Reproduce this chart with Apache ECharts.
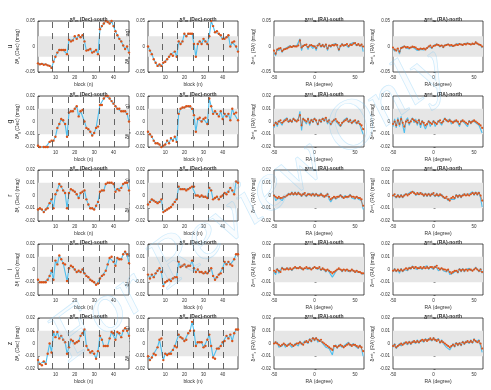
<!DOCTYPE html>
<html><head><meta charset="utf-8">
<script src="https://cdn.jsdelivr.net/npm/echarts@6/dist/echarts.min.js"></script>
<style>html,body{margin:0;padding:0;background:#fff}#c{width:491px;height:390px}</style>
</head><body><div id="c"></div>
<script>
// ---- data (mag values stored in mmag) ----
const bandNames = ['u','g','r','i','z'];
const blockBoundaries = [8.5,16.5,24.5,32.5,40.5];
const decTicks = [10,20,30,40];
const raTicks = [-50,0,50];

const uDecSouth = [-33,-35,-34,-36,-35,-37,-38,-42,-30,-20,-12,-7,-7,-7,-7,-15,13,10,12,20,15,22,18,22,10,-8,-7,-5,-12,-10,-7,-15,34,40,45,50,48,45,50,40,30,22,15,10,2,-5,0,-12];
const uDecNorth = [0,-8,-15,-25,-32,-38,-35,-38,-32,-30,-25,-20,-15,-18,-10,-20,10,5,10,25,20,25,25,25,5,-20,5,10,5,15,10,5,20,50,40,28,30,25,22,15,15,18,22,0,8,10,0,-10];
const gDecSouth = [-19,-20,-21,-20,-20,-20,-16,-15,-15,-12,-5,-2,2,1,-2,-12,7,8,8,10,12,4,8,9,0,-5,-6,-8,-11,-9,-5,-4,13,13,18,20,20,18,16,14,12,10,10,8,8,8,6,0];
const gDecNorth = [-8,-10,-12,-15,-17,-17,-18,-20,-19,-18,-15,-17,-13,-15,-12,-16,6,10,11,11,12,12,12,10,5,-8,2,3,0,2,3,-2,18,12,6,8,6,4,8,2,6,4,6,1,10,6,7,1];
const rDecSouth = [-11,-10,-11,-13,-11,-10,-6,-3,-10,1,4,9,7,4,2,-10,2,5,4,3,1,-2,2,3,4,-3,-7,-10,-10,-11,-8,-5,3,4,4,9,10,10,10,9,3,5,4,6,9,10,10,4];
const rDecNorth = [-7,-5,-3,-4,-5,-6,-5,-3,-13,-12,-11,-10,-9,-7,-5,-3,7,5,5,5,4,5,6,7,7,0,0,-1,0,-1,-1,-2,6,4,-3,-2,-1,-3,-1,0,2,1,3,6,4,1,11,10];
const iDecSouth = [-8,-10,-10,-10,-10,-8,-5,-1,-8,7,4,11,8,5,4,-9,1,3,2,0,-2,-1,-2,0,-3,-5,-6,-8,-9,-10,-12,-11,-7,-5,-4,-1,4,9,10,6,3,9,8,8,12,14,12,5];
const iDecNorth = [-4,-7,-4,-6,-3,-1,1,-2,-13,-10,-9,-8,-9,-7,-6,-6,6,2,3,4,2,3,3,7,1,-2,0,-2,-2,-3,-2,-3,-1,1,-5,-8,-6,-4,-3,1,6,4,6,4,3,8,12,12];
const zDecSouth = [-13,-16,-17,-14,-16,-8,0,-7,9,5,9,4,6,3,1,-8,-3,3,2,0,1,2,6,8,11,-2,-5,-7,-6,-8,-12,-6,6,3,-2,-2,-2,4,9,8,3,9,8,5,10,12,10,6];
const zDecNorth = [-10,-13,-11,-8,-9,-3,3,4,-13,-8,-9,-8,-8,-5,-2,-3,7,5,4,2,3,8,10,17,10,-2,1,1,1,-3,-2,3,7,-2,-11,-12,-4,-4,-2,1,2,6,4,7,2,8,11,11];

const uRaSouthBlue = [-12,-18,-4,-8,-3,-12,-5,-7,-2,-3,2,-2,2,-1,1,3,15,-8,3,6,2,-6,4,5,-4,2,-8,3,7,-2,5,-2,5,-8,3,-2,4,1,6,2,-9,2,6,0,4,7,-2,5,2,8,8,1,6,0,5,-10];
const uRaSouthOrange = [-8,-14,-6,-4,-3,-9,-6,-5,-4,-2,0,-1,1,0,0,2,12,-2,1,3,4,-1,2,3,1,0,-3,2,5,1,3,0,4,-4,2,1,3,2,4,3,-6,1,4,2,3,5,1,4,3,6,7,3,5,2,4,0];
const uRaNorthBlue = [-4,-9,-12,-6,-15,-2,-5,1,-3,-2,-5,-1,1,-3,-3,-8,-9,-6,-8,-7,-10,-4,1,3,-4,2,0,5,2,-1,3,-3,3,2,5,1,4,0,3,5,2,6,3,2,6,3,7,4,5,7,4,9,5,3,2,-3];
const uRaNorthOrange = [-2,-6,-8,-4,-10,-3,-2,0,-2,-1,-3,-2,0,-1,-2,-5,-6,-4,-5,-4,-6,-3,0,2,-2,1,2,4,3,1,2,-1,2,3,4,2,3,1,2,4,3,5,4,3,5,4,6,5,4,6,5,8,6,4,3,0];
const gRaSouthBlue = [-5,0,-4,1,2,-3,1,2,3,-1,2,-1,3,0,1,2,8,-7,3,0,-2,3,-3,2,-1,3,0,-3,2,-1,3,0,3,-2,2,-3,-1,2,3,-1,-2,-4,-2,1,2,3,-1,2,-2,1,0,-2,1,-3,-4,-10];
const gRaSouthOrange = [-3,-1,-2,0,1,-1,0,1,2,0,1,0,2,1,0,1,5,-3,2,1,0,2,-1,1,0,2,1,-2,1,0,2,1,3,0,1,-2,0,1,2,0,-1,-3,-1,0,1,2,0,1,-1,0,1,-1,0,-2,-3,-6];
const gRaNorthBlue = [-4,2,-5,3,-4,4,-3,-9,1,3,-3,1,3,-1,2,-3,2,-5,1,-3,-6,-3,1,-4,-5,1,-4,-5,1,2,-3,1,3,0,-1,2,-2,-3,1,2,-1,-4,1,2,-1,-2,-4,1,-2,1,2,-1,-2,-3,-4,-9];
const gRaNorthOrange = [-2,0,-3,1,-2,2,-1,-4,0,1,-1,0,2,1,0,-1,1,-2,0,-1,-3,-2,0,-1,-2,0,-1,-2,0,1,-1,0,2,1,0,1,0,-1,0,1,0,-2,0,1,0,-1,-2,0,-1,0,1,0,-1,-2,-3,-5];
const rRaSouthBlue = [1,-4,-3,-2,-3,-4,-2,-2,0,2,0,3,0,3,0,3,1,-1,2,3,-1,2,0,-1,2,-1,2,-1,-1,2,-1,-2,-1,2,-3,-5,-3,-1,-3,-2,-1,1,-2,-3,0,-2,-2,1,-2,-1,-3,-1,-3,-3,-4,-11];
const rRaSouthOrange = [0,-1,-2,-1,-2,-2,-1,-1,0,1,1,2,1,2,1,2,1,0,1,2,0,1,1,0,1,0,1,0,0,1,0,-1,0,1,-1,-3,-2,-1,-2,-1,-1,0,-1,-2,-1,-1,-1,0,-1,-1,-2,-1,-2,-2,-3,-8];
const rRaNorthBlue = [1,0,-2,1,-2,1,-2,1,0,1,0,3,2,3,0,1,2,1,2,-1,2,-1,2,-1,2,1,-1,2,-1,0,1,-2,-3,-2,-4,-5,-3,-2,-3,1,-2,1,-2,1,0,1,0,1,0,3,0,3,0,3,-2,-9];
const rRaNorthOrange = [0,1,-1,0,-1,0,-1,0,1,0,1,2,3,2,1,2,1,2,1,0,1,0,1,0,1,2,0,1,0,1,0,-1,-2,-1,-3,-4,-2,-1,-2,0,-1,0,-1,0,1,0,1,0,1,2,1,2,1,2,0,-4];
const iRaSouthBlue = [-2,-4,1,-3,-2,2,0,1,1,0,1,-1,1,2,1,0,2,0,0,1,2,0,2,0,1,2,1,0,2,-1,1,0,-2,0,-2,-4,-6,-4,-2,0,1,0,-2,0,-1,-1,-1,-2,0,-1,-2,-1,-2,-2,-3,-4];
const iRaSouthOrange = [-1,-2,0,-1,-2,1,0,0,1,0,1,0,1,2,1,1,2,1,0,1,2,1,1,0,1,2,1,1,2,0,1,0,-1,0,-1,-2,-3,-2,-1,0,1,0,-1,0,-1,0,-1,-1,0,-1,-2,-1,-2,-2,-3,-3];
const iRaNorthBlue = [-2,1,-2,0,-3,1,-2,0,1,-1,2,0,3,1,2,0,2,3,0,2,1,3,0,2,1,0,3,4,-1,0,1,-1,-1,-2,0,-4,-5,-3,-2,-1,-3,1,-2,1,-2,0,-1,1,-1,-2,0,2,0,-2,1,-3];
const iRaNorthOrange = [-1,0,-1,0,-1,0,-1,0,1,0,1,1,2,1,2,1,1,2,1,2,1,2,1,2,2,1,2,3,1,0,1,0,0,-1,0,-2,-3,-2,-1,-1,-2,0,-1,0,-1,0,-1,0,0,-1,0,1,0,-1,0,-2];
const zRaSouthBlue = [1,0,1,-3,-4,-2,0,-3,-3,0,1,-3,-3,0,1,-2,2,-1,-2,2,3,0,4,1,5,2,5,1,3,4,0,1,-3,-3,-4,-5,-9,-3,-1,-4,-1,0,-3,-4,-1,-2,1,-2,-3,0,-2,-3,-4,-1,-4,-10];
const zRaSouthOrange = [0,1,0,-1,-2,-1,0,-1,-2,-1,0,-1,-2,-1,0,0,1,0,-1,1,2,1,3,2,4,3,4,3,2,3,1,0,-1,-2,-3,-4,-5,-2,-2,-3,-2,-1,-2,-3,-2,-1,0,-1,-2,-1,-1,-2,-3,-2,-3,-6];
const zRaNorthBlue = [-3,0,-4,-3,0,-2,-2,1,2,-1,2,-1,2,3,0,3,0,3,4,1,4,2,4,5,2,5,2,1,4,0,3,0,-1,-3,-4,-5,-3,0,-3,1,-2,1,-2,2,-1,2,3,0,3,0,4,1,0,3,-2,-7];
const zRaNorthOrange = [-2,-1,-3,-2,-1,0,-1,0,1,0,1,0,1,2,1,2,1,2,3,2,3,2,3,4,3,4,3,2,3,1,2,1,0,-1,-2,-3,-2,-1,-2,0,-1,0,-1,1,0,1,2,1,2,1,3,2,1,2,0,-4];

const decData = {
  u:[uDecSouth,uDecNorth], g:[gDecSouth,gDecNorth], r:[rDecSouth,rDecNorth],
  i:[iDecSouth,iDecNorth], z:[zDecSouth,zDecNorth]
};
const raData = {
  u:[[uRaSouthBlue,uRaSouthOrange],[uRaNorthBlue,uRaNorthOrange]],
  g:[[gRaSouthBlue,gRaSouthOrange],[gRaNorthBlue,gRaNorthOrange]],
  r:[[rRaSouthBlue,rRaSouthOrange],[rRaNorthBlue,rRaNorthOrange]],
  i:[[iRaSouthBlue,iRaSouthOrange],[iRaNorthBlue,iRaNorthOrange]],
  z:[[zRaSouthBlue,zRaSouthOrange],[zRaNorthBlue,zRaNorthOrange]]
};

// ---- layout ----
const colLeft = [38,148,274,393];
const colWidth = [91,90,90,90];
const rowTop = [21,96,170,244,318];
const rowH = 51;
const BLUE = '#4DBEEE', ORANGE = '#D95319';
const FONT = 'Liberation Sans';

const grids=[], xAxes=[], yAxes=[], series=[], titles=[], graphics=[];
const fmtY = v => Math.abs(v)<1e-9 ? '0' : v.toFixed(2);
const richStyles = {
  d:{fontSize:5.5,fontFamily:FONT,color:'#333'},
  sup:{fontSize:3.6,fontFamily:FONT,color:'#333',verticalAlign:'top',padding:[0,0,2,0]},
  sub:{fontSize:3.6,fontFamily:FONT,color:'#333',verticalAlign:'bottom',padding:[2,0,0,0]},
  t:{fontSize:5,fontFamily:FONT,color:'#333'}
};

bandNames.forEach((band, r) => {
  const lim = band==='u' ? 0.05 : 0.02;
  const shade = band==='u' ? 0.02 : 0.01;
  for (let c=0;c<4;c++){
    const idx = r*4+c;
    const isDec = c<2;
    const side = (c%2===0) ? 'south' : 'north';
    grids.push({left:colLeft[c],top:rowTop[r],width:colWidth[c],height:rowH,show:true,borderColor:'#262626',borderWidth:0.8,backgroundColor:'transparent'});
    xAxes.push({
      gridIndex:idx,type:'value',
      min:isDec?1:-50, max:isDec?48:61,
      interval:isDec?undefined:50,
      name:isDec?'block (n)':'RA (degree)', nameLocation:'middle', nameGap:10,
      nameTextStyle:{fontSize:5,fontFamily:FONT,color:'#333'},
      axisLine:{show:false},
      axisTick:{show:true,inside:true,length:2,lineStyle:{color:'#262626',width:0.6},customValues:isDec?decTicks:raTicks},
      axisLabel:{fontSize:4.5,fontFamily:FONT,color:'#333',margin:3,customValues:isDec?decTicks:raTicks},
      splitLine:{show:false}
    });
    const kind = isDec ? 'ff' : 'ext';
    const axisTitle = isDec ? ' (Dec) (mag)' : ' (RA) (mag)';
    yAxes.push({
      gridIndex:idx,type:'value',min:-lim,max:lim,interval:lim===0.05?0.05:0.01,
      name:`{d|δ}{sup|${kind}}{sub|${band}}{t|${axisTitle}}`,
      nameLocation:'middle',nameRotate:90,nameGap:14,
      nameTextStyle:{rich:richStyles,fontSize:5},
      axisLine:{show:false},
      axisTick:{show:true,inside:true,length:2,lineStyle:{color:'#262626',width:0.6}},
      axisLabel:{fontSize:4.5,fontFamily:FONT,color:'#333',margin:3,formatter:fmtY},
      splitLine:{show:false}
    });
    titles.push({
      text:`{d|δ}{sup|${kind}}{sub|m}{t| (${isDec?'Dec':'RA'})-${side}}`,
      left:colLeft[c]+colWidth[c]/2, top:rowTop[r]-9, textAlign:'center',
      textStyle:{rich:richStyles,fontSize:5}
    });
    const bandArea = {silent:true,itemStyle:{color:'#e6e6e6'},data:[[{yAxis:-shade},{yAxis:shade}]]};
    if (isDec){
      const vals = decData[band][c];
      const pts = vals.map((v,i)=>[i+1, v/1000]);
      series.push({type:'line',xAxisIndex:idx,yAxisIndex:idx,data:pts,showSymbol:false,
        lineStyle:{color:BLUE,width:1.1},itemStyle:{color:BLUE},z:3,animation:false,
        markArea:bandArea,
        markLine:{silent:true,symbol:'none',label:{show:false},
          lineStyle:{color:'#555',type:[6,5],width:0.9},
          data:blockBoundaries.map(b=>({xAxis:b}))}});
      series.push({type:'line',xAxisIndex:idx,yAxisIndex:idx,data:pts,showSymbol:true,symbol:'circle',symbolSize:2.4,
        lineStyle:{width:0},itemStyle:{color:ORANGE,borderWidth:0},z:4,animation:false});
    } else {
      const [bl, or] = raData[band][c-2];
      const step = 110/(bl.length-1);
      series.push({type:'line',xAxisIndex:idx,yAxisIndex:idx,data:bl.map((v,i)=>[-50+i*step, v/1000]),showSymbol:false,
        lineStyle:{color:BLUE,width:1.1},z:3,animation:false,markArea:bandArea});
      const step2 = 110/(or.length-1);
      series.push({type:'line',xAxisIndex:idx,yAxisIndex:idx,data:or.map((v,i)=>[-50+i*step2, v/1000]),showSymbol:true,symbol:'circle',symbolSize:2.1,
        lineStyle:{color:ORANGE,width:0.6},itemStyle:{color:ORANGE,borderWidth:0},z:4,animation:false});
    }
  }
  graphics.push({type:'text',x:10,y:rowTop[r]+rowH/2,rotation:Math.PI/2,
    style:{text:band,fontSize:7,fontFamily:FONT,fill:'#222',align:'center',verticalAlign:'middle'}});
});

// watermark
graphics.push({type:'text',x:250,y:205,rotation:0.64,z:100,
  style:{text:'For Review Only',fontSize:70,fontFamily:'Liberation Serif',fontStyle:'italic',
    fill:'rgba(150,210,245,0.06)',stroke:'rgba(120,200,245,0.35)',lineWidth:0.7,align:'center',verticalAlign:'middle'}});

const chart = echarts.init(document.getElementById('c'),null,{renderer:'canvas'});
chart.setOption({animation:false,backgroundColor:'#fff',title:titles,grid:grids,xAxis:xAxes,yAxis:yAxes,series:series,graphic:graphics});
</script></body></html>
